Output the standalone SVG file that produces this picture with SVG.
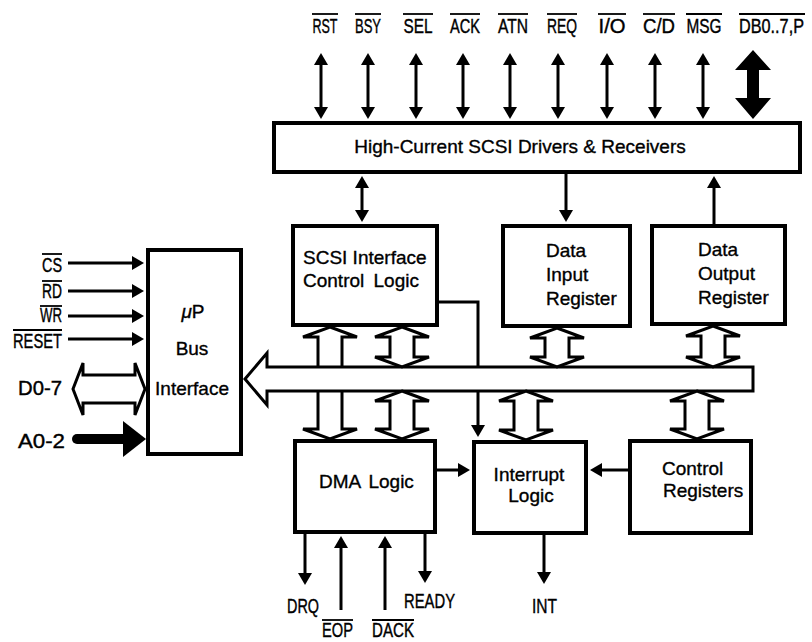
<svg xmlns="http://www.w3.org/2000/svg" width="812" height="642" viewBox="0 0 812 642">
<style>
.box{fill:#fff;stroke:#000;stroke-width:4}
.ln{stroke:#000;stroke-width:3;fill:none}
.hol{fill:#fff;stroke:#000;stroke-width:3;stroke-linejoin:miter}
.t{font-family:"Liberation Sans",Arial,sans-serif;font-size:19px;fill:#000;stroke:#000;stroke-width:0.35}
.lb{font-family:"Liberation Sans",Arial,sans-serif;font-size:20px;fill:#000;stroke:#000;stroke-width:0.4}
.ov{stroke:#000;stroke-width:1.8}
</style>
<defs>
<marker id="ah" viewBox="0 0 12 14" refX="4" refY="7" markerWidth="12" markerHeight="14" markerUnits="userSpaceOnUse" orient="auto-start-reverse">
<path d="M0,0 L12,7 L0,14 Z" fill="#000"/>
</marker>
</defs>
<rect width="812" height="642" fill="#fff"/>

<g id="connectors">
<!-- top SCSI bus signals -->
<line class="ln" x1="321" y1="61" x2="321" y2="111" marker-start="url(#ah)" marker-end="url(#ah)"/>
<line class="ln" x1="368" y1="61" x2="368" y2="111" marker-start="url(#ah)" marker-end="url(#ah)"/>
<line class="ln" x1="416" y1="61" x2="416" y2="111" marker-start="url(#ah)" marker-end="url(#ah)"/>
<line class="ln" x1="463" y1="61" x2="463" y2="111" marker-start="url(#ah)" marker-end="url(#ah)"/>
<line class="ln" x1="510" y1="61" x2="510" y2="111" marker-start="url(#ah)" marker-end="url(#ah)"/>
<line class="ln" x1="558" y1="61" x2="558" y2="111" marker-start="url(#ah)" marker-end="url(#ah)"/>
<line class="ln" x1="607" y1="61" x2="607" y2="111" marker-start="url(#ah)" marker-end="url(#ah)"/>
<line class="ln" x1="655" y1="61" x2="655" y2="111" marker-start="url(#ah)" marker-end="url(#ah)"/>
<line class="ln" x1="703" y1="61" x2="703" y2="111" marker-start="url(#ah)" marker-end="url(#ah)"/>
<path d="M753,50 L771,70 L759,70 L759,98 L771,98 L753,119 L735,98 L747,98 L747,70 L735,70 Z" fill="#000"/>

<!-- drivers to blocks -->
<line class="ln" x1="362" y1="184" x2="362" y2="214" marker-start="url(#ah)" marker-end="url(#ah)"/>
<line class="ln" x1="566" y1="174" x2="566" y2="214" marker-end="url(#ah)"/>
<line class="ln" x1="714" y1="224" x2="714" y2="184" marker-end="url(#ah)"/>

<!-- left microprocessor signals -->
<line class="ln" x1="68" y1="263" x2="136" y2="263" marker-end="url(#ah)"/>
<line class="ln" x1="68" y1="291" x2="136" y2="291" marker-end="url(#ah)"/>
<line class="ln" x1="68" y1="316" x2="136" y2="316" marker-end="url(#ah)"/>
<line class="ln" x1="68" y1="339" x2="136" y2="339" marker-end="url(#ah)"/>
<path class="hol" d="M73,389 L83,363 L83,375 L135,375 L135,363 L145,389 L135,415 L135,403 L83,403 L83,415 Z"/>
<line x1="77" y1="439" x2="126" y2="439" stroke="#000" stroke-width="10" stroke-linecap="round"/>
<path d="M123,421 L146,439 L123,457 Z" fill="#000"/>

<!-- SCSI control to interrupt (under bus) -->
<path class="ln" d="M439,302 L478,302 L478,429" marker-end="url(#ah)"/>

<!-- long hollow arrow SCSI ctrl <-> DMA (under bus) -->
<path class="hol" d="M330,327 L357,337 L342,337 L342,429 L357,429 L330,439 L303,429 L318,429 L318,337 L303,337 Z"/>

<!-- internal bus -->
<path class="hol" d="M245,379 L267,353 L267,367 L753,367 L753,391 L267,391 L267,405 Z"/>

<!-- short hollow arrows -->
<path class="hol" d="M402,327 L429,337 L414,337 L414,357 L429,357 L402,367 L375,357 L390,357 L390,337 L375,337 Z"/>
<path class="hol" d="M402,391 L429,401 L414,401 L414,429 L429,429 L402,439 L375,429 L390,429 L390,401 L375,401 Z"/>
<path class="hol" d="M557,328 L584,338 L569,338 L569,357 L584,357 L557,367 L530,357 L545,357 L545,338 L530,338 Z"/>
<path class="hol" d="M713,326 L740,336 L725,336 L725,357 L740,357 L713,367 L686,357 L701,357 L701,336 L686,336 Z"/>
<path class="hol" d="M526,391 L553,401 L538,401 L538,430 L553,430 L526,440 L499,430 L514,430 L514,401 L499,401 Z"/>
<path class="hol" d="M697,391 L724,401 L709,401 L709,429 L724,429 L697,439 L670,429 L685,429 L685,401 L670,401 Z"/>

<!-- block to interrupt -->
<line class="ln" x1="437" y1="470" x2="462" y2="470" marker-end="url(#ah)"/>
<line class="ln" x1="628" y1="470" x2="598" y2="470" marker-end="url(#ah)"/>

<!-- DMA / interrupt outputs -->
<line class="ln" x1="305" y1="534" x2="305" y2="577" marker-end="url(#ah)"/>
<line class="ln" x1="425" y1="534" x2="425" y2="575" marker-end="url(#ah)"/>
<line class="ln" x1="341" y1="610" x2="341" y2="544" marker-end="url(#ah)"/>
<line class="ln" x1="385" y1="610" x2="385" y2="544" marker-end="url(#ah)"/>
<line class="ln" x1="544" y1="535" x2="544" y2="576" marker-end="url(#ah)"/>
</g>

<g id="signal-labels">
<text class="lb" x="325" y="33" text-anchor="middle" textLength="25" lengthAdjust="spacingAndGlyphs">RST</text>
<line class="ov" x1="312" y1="14" x2="338" y2="14"/>
<text class="lb" x="368" y="33" text-anchor="middle" textLength="26" lengthAdjust="spacingAndGlyphs">BSY</text>
<line class="ov" x1="355" y1="14" x2="381" y2="14"/>
<text class="lb" x="418" y="33" text-anchor="middle" textLength="29" lengthAdjust="spacingAndGlyphs">SEL</text>
<line class="ov" x1="403" y1="14" x2="433" y2="14"/>
<text class="lb" x="465" y="33" text-anchor="middle" textLength="30" lengthAdjust="spacingAndGlyphs">ACK</text>
<line class="ov" x1="450" y1="14" x2="480" y2="14"/>
<text class="lb" x="513" y="33" text-anchor="middle" textLength="30" lengthAdjust="spacingAndGlyphs">ATN</text>
<line class="ov" x1="498" y1="14" x2="528" y2="14"/>
<text class="lb" x="562" y="33" text-anchor="middle" textLength="30" lengthAdjust="spacingAndGlyphs">REQ</text>
<line class="ov" x1="547" y1="14" x2="577" y2="14"/>
<text class="lb" x="612" y="33" text-anchor="middle" textLength="27" lengthAdjust="spacingAndGlyphs">I/O</text>
<line class="ov" x1="598" y1="14" x2="626" y2="14"/>
<text class="lb" x="659" y="33" text-anchor="middle" textLength="32" lengthAdjust="spacingAndGlyphs">C/D</text>
<line class="ov" x1="643" y1="14" x2="675" y2="14"/>
<text class="lb" x="704" y="33" text-anchor="middle" textLength="35" lengthAdjust="spacingAndGlyphs">MSG</text>
<line class="ov" x1="686" y1="14" x2="722" y2="14"/>
<text class="lb" x="739" y="33" textLength="65" lengthAdjust="spacingAndGlyphs">DB0..7,P</text>
<line class="ov" x1="739" y1="14" x2="805" y2="14"/>

<text class="lb" x="62" y="272" text-anchor="end" textLength="20" lengthAdjust="spacingAndGlyphs">CS</text>
<line class="ov" x1="42" y1="254" x2="62" y2="254"/>
<text class="lb" x="62" y="298" text-anchor="end" textLength="20" lengthAdjust="spacingAndGlyphs">RD</text>
<line class="ov" x1="42" y1="281" x2="62" y2="281"/>
<text class="lb" x="62" y="322" text-anchor="end" textLength="22" lengthAdjust="spacingAndGlyphs">WR</text>
<line class="ov" x1="40" y1="306" x2="62" y2="306"/>
<text class="lb" x="62" y="348" text-anchor="end" textLength="49" lengthAdjust="spacingAndGlyphs">RESET</text>
<line class="ov" x1="13" y1="330" x2="62" y2="330"/>
<text class="lb" x="62" y="395" text-anchor="end" textLength="44" lengthAdjust="spacingAndGlyphs">D0-7</text>
<text class="lb" x="65" y="448" text-anchor="end" textLength="47" lengthAdjust="spacingAndGlyphs">A0-2</text>

<text class="lb" x="287" y="613" textLength="32" lengthAdjust="spacingAndGlyphs">DRQ</text>
<text class="lb" x="404" y="608" textLength="51" lengthAdjust="spacingAndGlyphs">READY</text>
<text class="lb" x="322" y="637" textLength="31" lengthAdjust="spacingAndGlyphs">EOP</text>
<line class="ov" x1="322" y1="620" x2="353" y2="620"/>
<text class="lb" x="372" y="637" textLength="42" lengthAdjust="spacingAndGlyphs">DACK</text>
<line class="ov" x1="372" y1="620" x2="414" y2="620"/>
<text class="lb" x="532" y="613" textLength="25" lengthAdjust="spacingAndGlyphs">INT</text>
</g>

<g id="drivers">
<rect class="box" x="274" y="123" width="526" height="49"/>
<text class="t" x="520" y="153" text-anchor="middle">High-Current SCSI Drivers &amp; Receivers</text>
</g>

<g id="scsi-control">
<rect class="box" x="293" y="226" width="144" height="99"/>
<text class="t" x="303" y="264">SCSI Interface</text>
<text class="t" x="303" y="287" word-spacing="4">Control Logic</text>
</g>

<g id="data-input">
<rect class="box" x="503" y="226" width="127" height="100"/>
<text class="t" x="546" y="257">Data</text>
<text class="t" x="546" y="281">Input</text>
<text class="t" x="546" y="305">Register</text>
</g>

<g id="data-output">
<rect class="box" x="652" y="226" width="133" height="98"/>
<text class="t" x="698" y="256">Data</text>
<text class="t" x="698" y="280">Output</text>
<text class="t" x="698" y="304">Register</text>
</g>

<g id="bus-interface">
<rect class="box" x="148" y="250" width="93" height="204"/>
<text class="t" x="193" y="318" text-anchor="middle"><tspan font-style="italic">μ</tspan>P</text>
<text class="t" x="192" y="355" text-anchor="middle">Bus</text>
<text class="t" x="192" y="395" text-anchor="middle">Interface</text>
</g>

<g id="dma-logic">
<rect class="box" x="295" y="441" width="140" height="91"/>
<text class="t" x="319" y="488" word-spacing="3">DMA Logic</text>
</g>

<g id="interrupt-logic">
<rect class="box" x="474" y="442" width="112" height="91"/>
<text class="t" x="529" y="481" text-anchor="middle">Interrupt</text>
<text class="t" x="531" y="502" text-anchor="middle">Logic</text>
</g>

<g id="control-registers">
<rect class="box" x="630" y="441" width="121" height="92"/>
<text class="t" x="662" y="475">Control</text>
<text class="t" x="663" y="497">Registers</text>
</g>
</svg>
